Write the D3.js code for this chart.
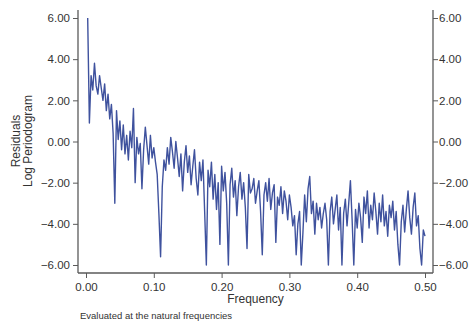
<!DOCTYPE html>
<html>
<head>
<meta charset="utf-8">
<script src="https://cdn.jsdelivr.net/npm/d3@7"></script>
<style>
  body { margin: 0; background: #fff; }
  svg { display: block; }
  text { font-family: "Liberation Sans", Arial, sans-serif; fill: #333; }
</style>
</head>
<body>
<svg id="chart" width="471" height="326"></svg>
<script>
// Sample size behind the natural frequencies j/n
const nObs = 400;
// Log periodogram of residuals (j = 1..200)
const logPeriodogram = [
  6.0, 0.9, 3.2, 2.5, 3.8, 2.7, 2.3, 3.2, 2.6, 2.0,
  2.8, 1.5, 2.3, 1.1, 1.8, 0.4, -3.0, 1.5, 0.1, 1.0,
  -0.4, 0.8, -0.6, 0.3, -0.9, 0.5, -0.3, 1.6, -2.0, 0.2,
  -0.6, -0.1, -2.3, -0.4, 0.7, -0.2, -1.1, 0.3, -0.8, -0.3,
  -1.0, -1.6, -3.5, -5.6, -2.2, -0.9, -1.4, -0.3, -1.1, 0.2,
  -0.5, -1.3, 0.0, -0.8, -1.7, -0.6, -2.4, -1.0, -0.2, -1.5,
  -0.7, -2.1, -1.2, -0.4, -1.8, -2.6, -1.0, -1.9, -0.9, -3.4,
  -6.0, -1.4, -2.2, -1.0, -2.8, -1.6, -3.3, -2.0, -5.0, -1.2,
  -2.4, -1.5, -3.0, -6.0, -2.1, -1.3, -2.7, -1.9, -3.6, -2.2,
  -1.5, -2.8, -2.0, -3.2, -5.2, -1.6, -2.5, -2.3, -1.8, -3.0,
  -2.4, -1.9, -3.4, -5.5, -2.6, -2.0, -2.9, -1.8, -3.3, -2.5,
  -2.1, -4.9, -2.7, -3.1, -2.2, -3.5, -2.4, -2.9, -3.8, -2.6,
  -3.2, -4.1, -3.6, -5.5, -4.0, -3.4, -6.0, -4.4, -2.6, -3.9,
  -2.3, -1.7, -3.5, -2.9, -4.5, -3.0, -3.8, -3.2, -4.2, -3.5,
  -3.0, -3.8, -6.0, -3.4, -2.7, -4.0, -3.3, -2.6, -4.3, -3.2,
  -6.0, -3.5, -2.8, -4.1, -3.0, -1.9, -3.8, -6.0, -3.3, -4.2,
  -3.0, -3.7, -4.9, -2.7, -3.5, -2.4, -4.2, -3.1, -3.8, -2.5,
  -3.4, -4.5, -3.0, -3.9, -2.6, -4.1, -3.4, -4.6, -3.1, -3.7,
  -2.9, -4.3, -3.4, -5.0, -6.0, -3.9, -3.1, -4.4, -3.3, -2.4,
  -3.7, -4.5, -3.2, -2.5, -4.1, -3.6, -5.2, -6.0, -4.3, -4.6
];
const frequencies = logPeriodogram.map((_, i) => (i + 1) / nObs);
const yTicks = [6, 4, 2, 0, -2, -4, -6];
const xTicks = [0, 0.1, 0.2, 0.3, 0.4, 0.5];
const yTitleLines = ["Residuals", "Log Periodogram"];
const xTitle = "Frequency";
const note = "Evaluated at the natural frequencies";

(function () {
const svg = d3.select("#chart");
const mLeft = 78, mRight = 433, mTop = 10, mBottom = 273;

const x = d3.scaleLinear().domain([0, 0.5]).range([86, 425]);
const y = d3.scaleLinear().domain([-6, 6]).range([265, 18]);

const fmt = d3.format(".2f");
const axisColor = "#5a5a5a";

// Left axis
const gl = svg.append("g").attr("transform", `translate(${mLeft},0)`)
  .call(d3.axisLeft(y).tickValues(yTicks).tickFormat(fmt).tickSize(5).tickPadding(3));
gl.select(".domain").remove();
// Right axis
const gr = svg.append("g").attr("transform", `translate(${mRight},0)`)
  .call(d3.axisRight(y).tickValues(yTicks).tickFormat(fmt).tickSize(5).tickPadding(1));
gr.select(".domain").remove();
// Bottom axis
const gb = svg.append("g").attr("transform", `translate(0,${mBottom})`)
  .call(d3.axisBottom(x).tickValues(xTicks).tickFormat(fmt).tickSize(5).tickPadding(5));
gb.select(".domain").remove();

svg.selectAll(".tick line").attr("stroke", axisColor).attr("stroke-width", 1);
svg.selectAll(".tick text").style("font-size", "11.5px").attr("fill", "#333")
  .style("font-family", "'Liberation Sans', Arial, sans-serif");

// axis lines
svg.append("line").attr("x1", mLeft).attr("x2", mLeft).attr("y1", mTop).attr("y2", mBottom)
  .attr("stroke", axisColor).attr("stroke-width", 1.3);
svg.append("line").attr("x1", mRight).attr("x2", mRight).attr("y1", mTop).attr("y2", mBottom)
  .attr("stroke", axisColor).attr("stroke-width", 1.3);
svg.append("line").attr("x1", mLeft).attr("x2", mRight).attr("y1", mBottom).attr("y2", mBottom)
  .attr("stroke", axisColor).attr("stroke-width", 1.3);

// data line
const line = d3.line().x((d, i) => x(frequencies[i])).y(d => y(d));
svg.append("path").datum(logPeriodogram)
  .attr("d", line)
  .attr("fill", "none")
  .attr("stroke", "#3f529e")
  .attr("stroke-width", 1.4)
  .attr("stroke-linejoin", "round");

// y title
const yt = svg.append("text")
  .attr("transform", `translate(20,141) rotate(-90)`)
  .attr("text-anchor", "middle")
  .style("font-size", "12px");
yt.selectAll("tspan").data(yTitleLines).join("tspan")
  .attr("x", 0).attr("dy", (d, i) => i === 0 ? 0 : 12)
  .text(d => d);

// x title
svg.append("text").attr("x", (mLeft + mRight) / 2).attr("y", 303)
  .attr("text-anchor", "middle").style("font-size", "12px").text(xTitle);

// note
svg.append("text").attr("x", 80).attr("y", 319)
  .style("font-size", "9.5px").text(note);
})();
</script>
</body>
</html>
